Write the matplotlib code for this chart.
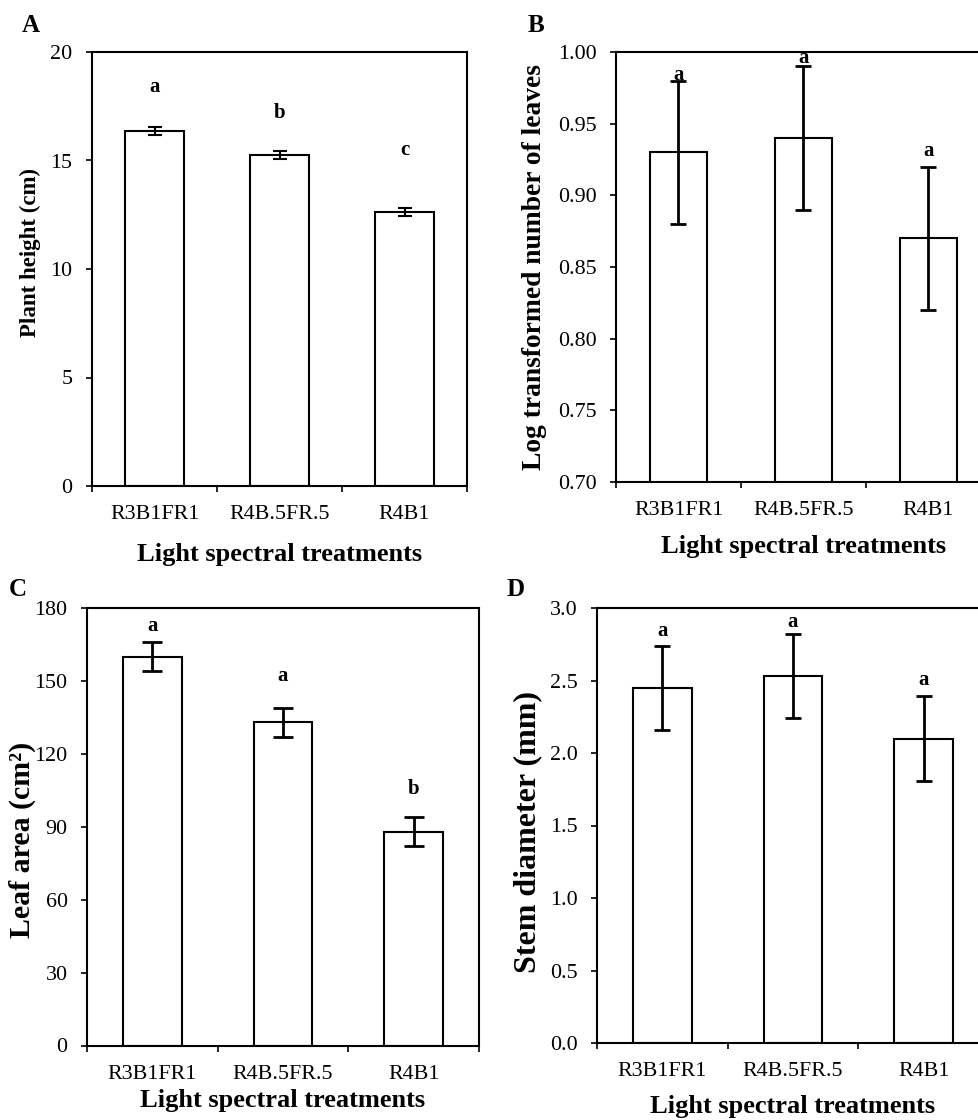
import matplotlib
matplotlib.use("Agg")
import matplotlib.pyplot as plt
import numpy as np

plt.rcParams['font.family'] = ['Liberation Serif', 'DejaVu Serif']

treatments = ["R3B1FR1", "R4B.5FR.5", "R4B1"]

height_mean = [16.37, 15.24, 12.62]
height_err = [0.18, 0.18, 0.18]
height_letters = ["a", "b", "c"]
height_letter_y = [18.4, 17.2, 15.5]

leaves_mean = [0.93, 0.94, 0.87]
leaves_err = [0.05, 0.05, 0.05]
leaves_letters = ["a", "a", "a"]
leaves_letter_y = [0.984, 0.996, 0.931]

area_mean = [160, 133, 88]
area_err = [6, 6, 6]
area_letters = ["a", "a", "b"]
area_letter_y = [172.7, 152, 105.6]

stem_mean = [2.45, 2.53, 2.10]
stem_err = [0.29, 0.29, 0.29]
stem_letters = ["a", "a", "a"]
stem_letter_y = [2.844, 2.905, 2.503]

W, H = 979, 1120
fig = plt.figure(figsize=(W / 100, H / 100), dpi=100)


def px_axes(left, right, top, bottom):
    return fig.add_axes([left / W, 1 - bottom / H, (right - left) / W, (bottom - top) / H])


def panel(ax, means, errs, letters, letter_y, ylim, yticks, ylabel, ylab_x, ylab_y,
          xlab_y, bar_w, elw, capsize, letter_fs, ylab_fs, fmt):
    x = np.arange(len(treatments))
    ax.bar(x, means, width=bar_w, color='white', edgecolor='black', linewidth=1.5, zorder=2)
    ax.errorbar(x, means, yerr=errs, fmt='none', ecolor='black', elinewidth=elw,
                capsize=capsize, capthick=elw, zorder=3)
    for xi, lt, ly in zip(x, letters, letter_y):
        ax.text(xi, ly, lt, ha='center', va='center', fontsize=letter_fs,
                fontweight='bold', zorder=4)
    ax.set_xlim(-0.5, len(treatments) - 0.5)
    ax.set_ylim(*ylim)
    ax.set_yticks(yticks)
    ax.set_yticklabels([fmt.format(v) for v in yticks])
    ax.set_xticks(x)
    ax.set_xticklabels(treatments)
    ax.set_xticks(np.arange(-0.5, len(treatments)), minor=True)
    ax.tick_params(axis='x', which='major', length=0, pad=14, labelsize=15.8)
    ax.tick_params(axis='x', which='minor', length=4.5, width=1.2, direction='out')
    ax.tick_params(axis='y', which='major', length=4.5, width=1.2, direction='out',
                   pad=9.5, labelsize=15.8)
    for s in ax.spines.values():
        s.set_linewidth(1.5)
    ax.set_ylabel(ylabel, fontsize=ylab_fs, fontweight='bold')
    ax.yaxis.label.set_va('center')
    ax.yaxis.set_label_coords(ylab_x, ylab_y)
    ax.set_xlabel("Light spectral treatments", fontsize=19, fontweight='bold')
    ax.xaxis.label.set_va('center')
    ax.xaxis.set_label_coords(0.5, xlab_y)


# Panel A
axA = px_axes(92, 467, 52, 486)
panel(axA, height_mean, height_err, height_letters, height_letter_y, (0, 20),
      [0, 5, 10, 15, 20], "Plant height (cm)", (30 - 92) / 375, 0.538,
      -(554 - 486) / 434, 0.47, 1.5, 5, 15, 16.5, "{:g}")

# Panel B
axB = px_axes(616, 991, 52, 482)
panel(axB, leaves_mean, leaves_err, leaves_letters, leaves_letter_y, (0.70, 1.00),
      [0.70, 0.75, 0.80, 0.85, 0.90, 0.95, 1.00], "Log transformed number of leaves",
      (535 - 616) / 375, 0.5, -(547 - 482) / 430, 0.45, 2.0, 5.5, 15, 19.8, "{:.2f}")

# Panel C
axC = px_axes(87, 479, 608, 1045.5)
panel(axC, area_mean, area_err, area_letters, area_letter_y, (0, 180),
      [0, 30, 60, 90, 120, 150, 180], "Leaf area (cm\u00b2)",
      (22 - 87) / 392, 0.47, -(1101 - 1045.5) / 437.5, 0.45, 2.0, 7.5, 15, 21.5, "{:g}")

# Panel D
axD = px_axes(597, 989, 608, 1043)
panel(axD, stem_mean, stem_err, stem_letters, stem_letter_y, (0, 3.0),
      [0, 0.5, 1.0, 1.5, 2.0, 2.5, 3.0], "Stem diameter (mm)",
      (528 - 597) / 392, 0.484, -(1106 - 1043) / 435, 0.45, 2.0, 6, 15, 23, "{:.1f}")

# Panel letters
for lab, xp, yp in [("A", 31, 25), ("B", 536, 25), ("C", 18, 590), ("D", 516, 589)]:
    fig.text(xp / W, 1 - yp / H, lab, fontsize=18, fontweight='bold', ha='center', va='center')

fig.savefig("out.png", dpi=100)
